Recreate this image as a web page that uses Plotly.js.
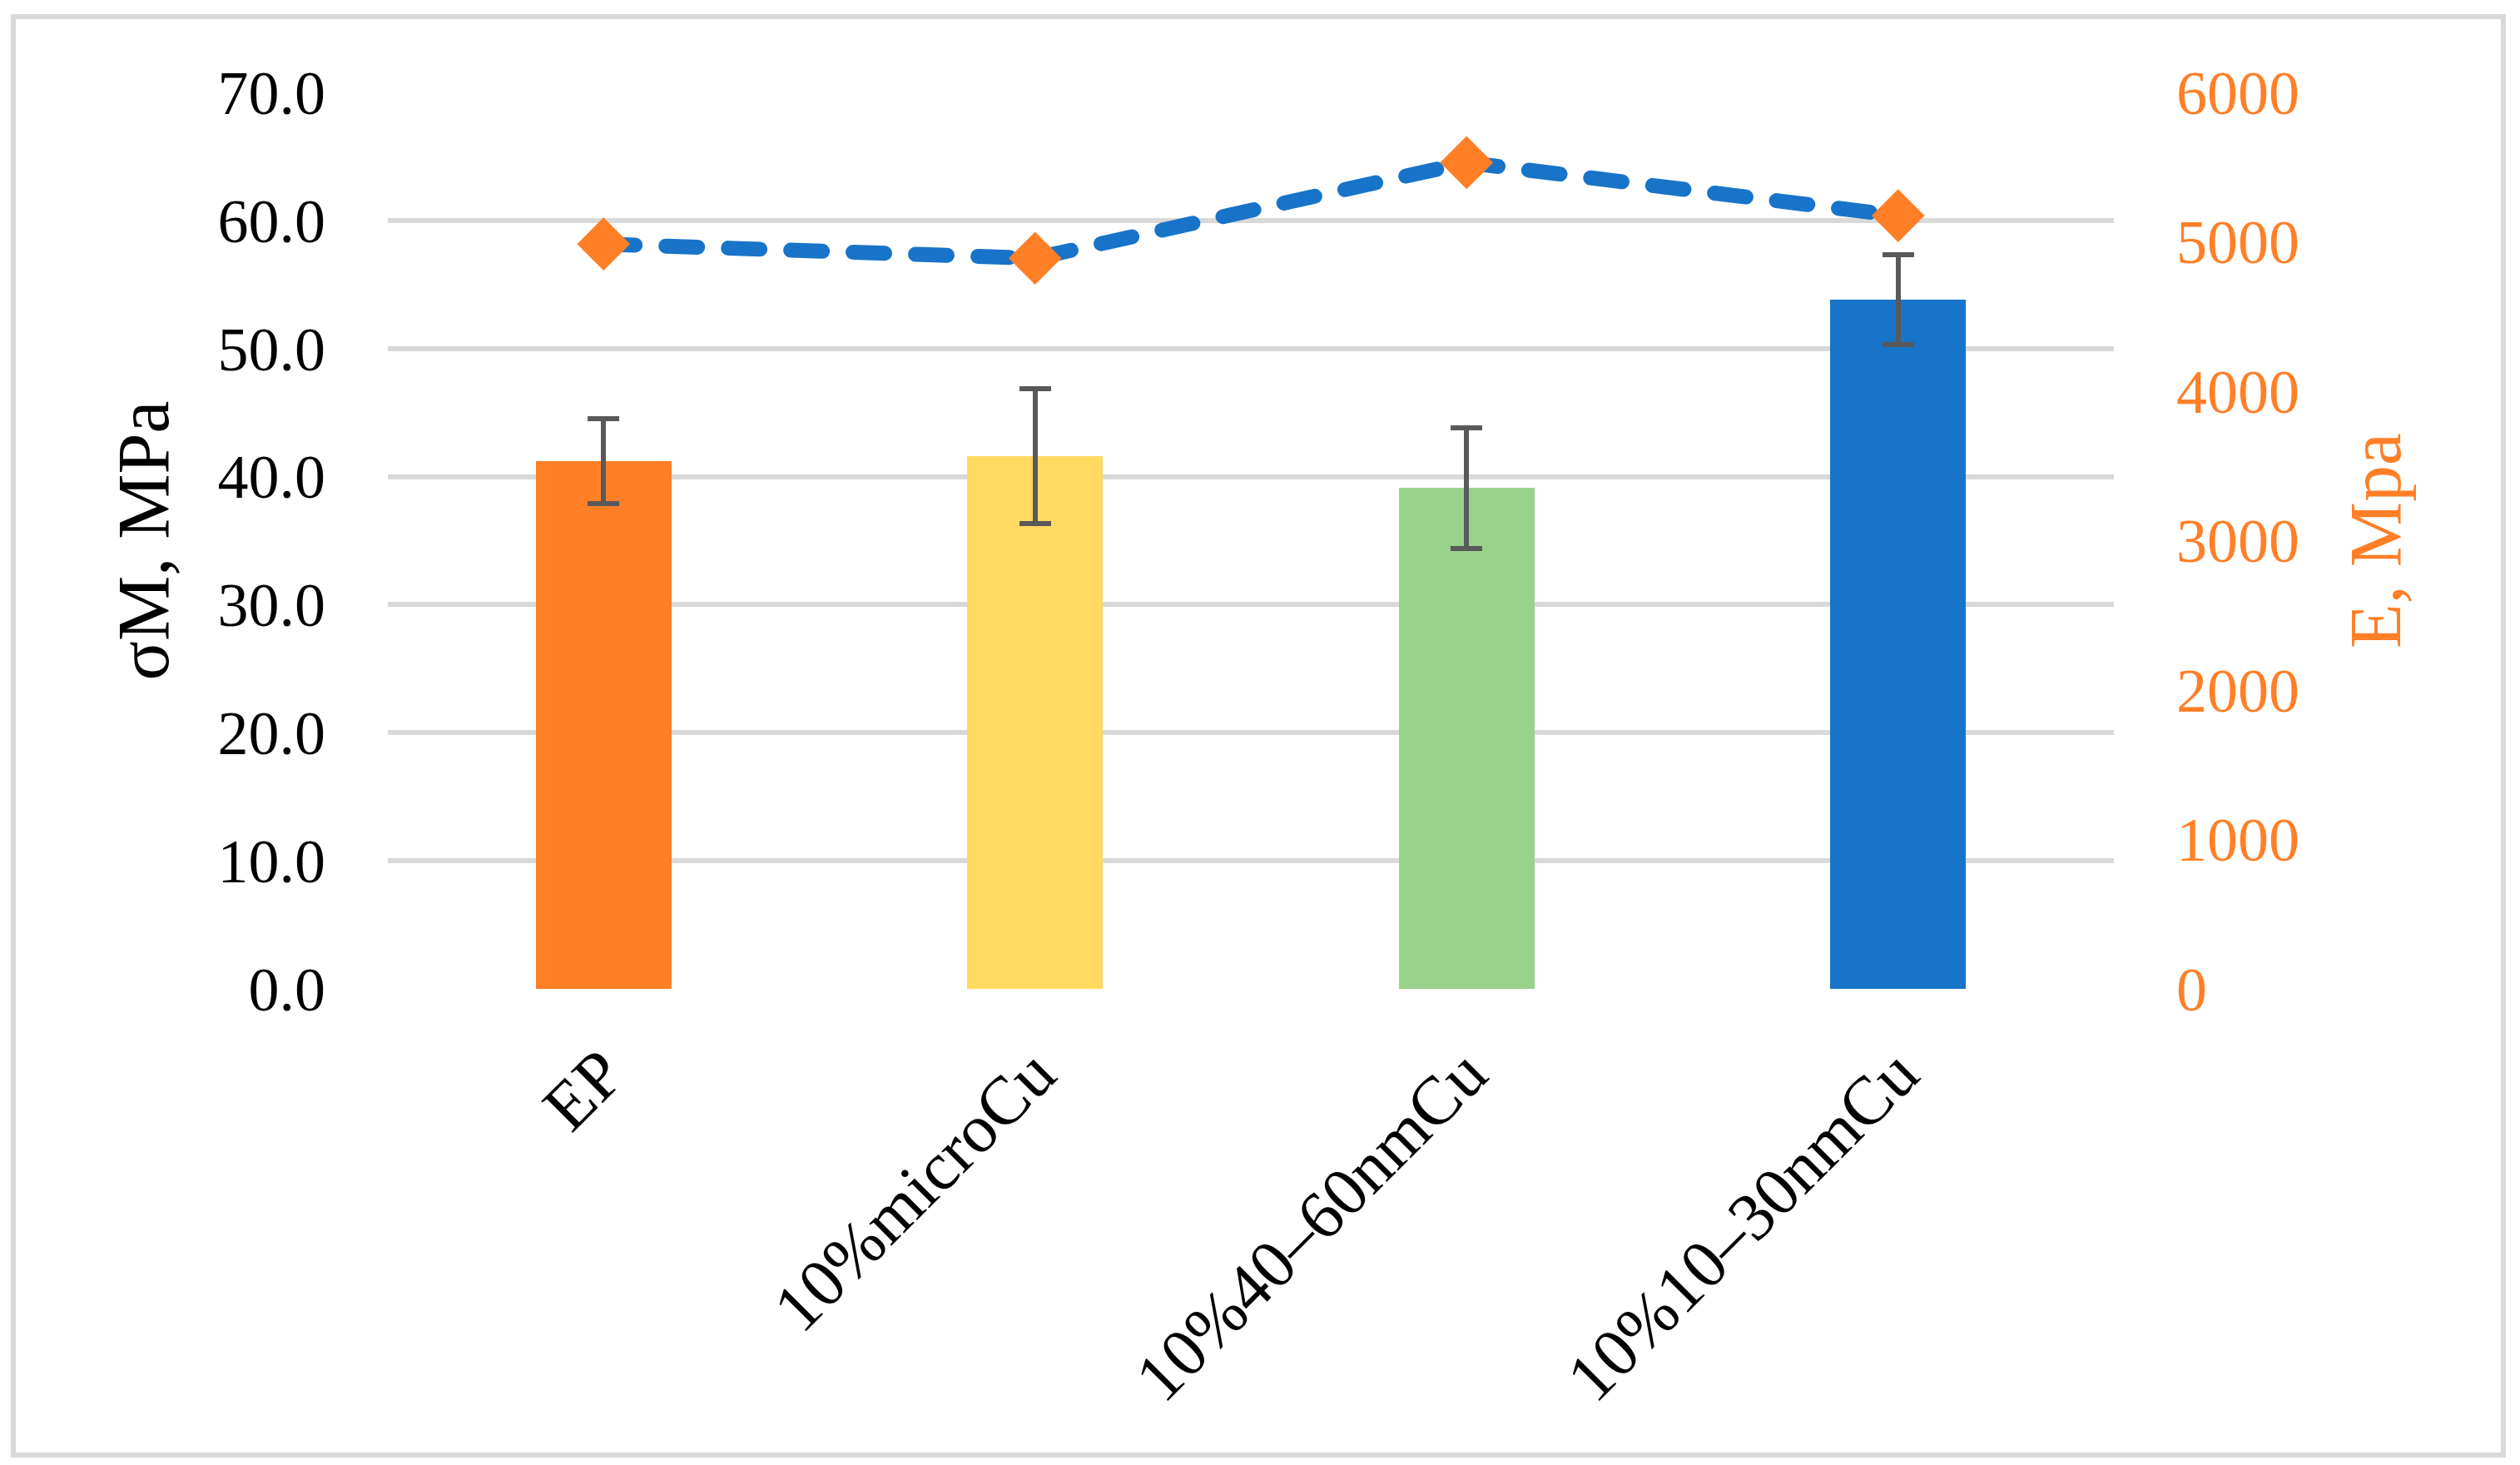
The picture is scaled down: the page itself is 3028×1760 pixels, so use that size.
<!DOCTYPE html>
<html>
<head>
<meta charset="utf-8">
<script src="https://cdn.plot.ly/plotly-3.0.1.min.js"></script>
<style>
  html, body { margin: 0; padding: 0; background: #ffffff; }
  #chart { width: 3028px; height: 1760px; }
  .js-line { stroke-linecap: round !important; }
</style>
</head>
<body>
<div id="chart"></div>
<script>
// ---- data ----
const categories = ["EP", "10%microCu", "10%40\u201360nmCu", "10%10\u201330nmCu"];
const strengthMPa = [41.2, 41.6, 39.1, 53.8];          // left axis, bars
const strengthErr = [3.3, 5.25, 4.7, 3.5];              // error bars
const modulusMPa  = [4985, 4890, 5530, 5175];           // right axis, line
const barColors   = ["#FF7F27", "#FFD960", "#98D28B", "#1874C8"];
const leftTickVals  = [0, 10, 20, 30, 40, 50, 60, 70];
const rightTickVals = [0, 1000, 2000, 3000, 4000, 5000, 6000];

const FONT = "'Liberation Serif', 'DejaVu Serif', serif";
const ORANGE = "#FF7F27";

const bars = {
  type: "bar",
  x: categories,
  y: strengthMPa,
  width: 0.314,
  marker: { color: barColors, line: { width: 0 } },
  error_y: { type: "data", array: strengthErr, visible: true,
             color: "#595959", thickness: 6, width: 19 },
  yaxis: "y",
  showlegend: false,
  hoverinfo: "skip"
};

const line = {
  type: "scatter",
  mode: "lines+markers",
  x: categories,
  y: modulusMPa,
  yaxis: "y2",
  line: { color: "#1874C8", width: 18, dash: "38px,37px" },
  marker: { symbol: "diamond", size: 49, color: ORANGE, line: { width: 0 } },
  showlegend: false,
  hoverinfo: "skip"
};

const L = 466, R = 2540, T = 111, B = 1188;
const W = 3028, H = 1760;
const pw = R - L, ph = B - T;
const px = v => (v - L) / pw;
const py = v => (B - v) / ph;

const layout = {
  width: W, height: H,
  margin: { l: L, r: W - R, t: T, b: H - B, pad: 0 },
  paper_bgcolor: "#ffffff",
  plot_bgcolor: "#ffffff",
  font: { family: FONT, color: "#000000", size: 74 },
  bargap: 0,
  xaxis: {
    type: "category",
    showgrid: false, showline: false, zeroline: false,
    ticks: "", tickangle: -45,
    tickfont: { family: FONT, size: 82, color: "#000000" },
    ticklabelstandoff: 36,
    automargin: false
  },
  yaxis: {
    range: [0, 70],
    tickvals: leftTickVals,
    tickformat: ".1f",
    showgrid: true, gridcolor: "#D9D9D9", gridwidth: 6,
    zeroline: false, showline: false,
    ticks: "", ticklabelstandoff: 74,
    tickfont: { family: FONT, size: 74, color: "#000000" },
    title: { text: "\u03c3M, MPa", font: { family: FONT, size: 88, color: "#000000" }, standoff: 29 },
    automargin: false
  },
  yaxis2: {
    overlaying: "y", side: "right",
    range: [0, 6000],
    tickvals: rightTickVals,
    showgrid: false, zeroline: false, showline: false,
    ticks: "", ticklabelstandoff: 74,
    tickfont: { family: FONT, size: 74, color: ORANGE },
    title: { text: "E, Mpa", font: { family: FONT, size: 88, color: ORANGE }, standoff: 60 },
    automargin: false
  },
  shapes: [{
    type: "rect", xref: "paper", yref: "paper", layer: "below",
    x0: px(16), x1: px(3008), y0: py(1748), y1: py(20),
    line: { color: "#D9D9D9", width: 6 }, fillcolor: "rgba(0,0,0,0)"
  }],
  showlegend: false
};

Plotly.newPlot("chart", [bars, line], layout, { displayModeBar: false, staticPlot: true });
</script>
</body>
</html>
